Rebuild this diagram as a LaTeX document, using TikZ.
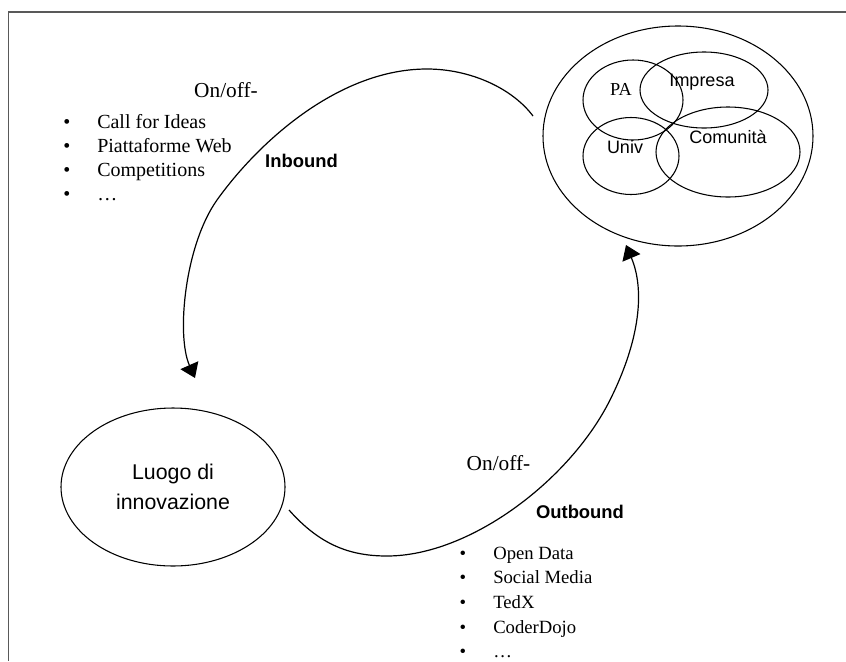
\documentclass[tikz,border=0pt]{standalone}
\usepackage{fontspec}
\setmainfont{Liberation Serif}
\setsansfont{Liberation Sans}
\usetikzlibrary{shapes.geometric,arrows.meta}
\tikzset{
  blob/.style={draw=black, ellipse, line width=0.8pt, inner sep=0pt},
  flow/.style={draw=black, line width=0.9pt, -{Triangle[length=10.5pt,width=14.5pt]}},
  serifitem/.style={font=\fontsize{15pt}{18pt}\selectfont, inner sep=0pt, anchor=base west},
  serifitemb/.style={font=\fontsize{14pt}{17pt}\selectfont, inner sep=0pt, anchor=base west},
  bul/.style={inner sep=0pt, anchor=base},
  onoff/.style={font=\fontsize{16pt}{19pt}\selectfont, inner sep=0pt, anchor=base},
  boldlab/.style={font=\sffamily\bfseries\fontsize{13.8pt}{16pt}\selectfont, inner sep=0pt, anchor=base},
  grplab/.style={font=\sffamily\fontsize{13.5pt}{16pt}\selectfont, inner sep=0pt, anchor=base},
  frameline/.style={draw=black!65, line width=0.8pt}
}
\begin{document}
\begin{tikzpicture}[x=0.75pt, y=-0.75pt]
\useasboundingbox (0,0) rectangle (846,661);
% frame
\coordinate (fTL) at (8.5,12);
\coordinate (fTR) at (846,12);
\coordinate (fBL) at (8.5,661);
\draw[frameline] (fTR) -- (fTL) -- (fBL);

% group of actors
\node[blob, minimum width=202.5pt, minimum height=165pt] (grp) at (678,136) {};
\node[blob, minimum width=75pt, minimum height=60pt] (pa) at (633,100) {};
\node[blob, minimum width=96pt, minimum height=57pt] (imp) at (704,90) {};
\node[blob, minimum width=72pt, minimum height=57.75pt] (univ) at (631,156) {};
\node[blob, minimum width=108pt, minimum height=67.5pt] (com) at (728,152) {};
\node[grplab, font=\rmfamily\fontsize{13.7pt}{16pt}\selectfont] (paT) at (621,95) {PA};
\node[grplab] (impT) at (702,86.7) {Impresa};
\node[grplab] (univT) at (625,153) {Univ};
\node[grplab] (comT) at (728,143) {Comunità};

% luogo di innovazione
\node[blob, minimum width=168pt, minimum height=118.5pt, align=center,
      font=\sffamily\fontsize{16pt}{22.5pt}\selectfont] (luogo) at (173,487) {\rule{0pt}{9pt}Luogo di\\innovazione};

% connector end points
\coordinate (inS) at (533,116);
\coordinate (inE) at (195,378);
\coordinate (outS) at (289,510);
\coordinate (outE) at (626,245);

% inbound
\draw[flow] (inS) .. controls (512,88) and (470,69) .. (427,69)
  .. controls (340,69) and (260,140) .. (217,200)
  .. controls (185,245) and (176,335) .. (inE);
% outbound
\draw[flow] (outS) .. controls (320,545) and (350,556) .. (387,556)
  .. controls (470,556) and (570,480) .. (610,400)
  .. controls (640,340) and (645,290) .. (outE);

% labels
\node[onoff] (onoffA) at (226,97) {On/off-};
\node[boldlab] (inbT) at (301.5,167) {Inbound};
\node[onoff] (onoffB) at (498.5,470) {On/off-};
\node[boldlab] (outbT) at (580,518.5) {Outbound};

% top list
\foreach \t [count=\i] in {Call for Ideas, Piattaforme Web, Competitions, …}{
  \node[bul, font=\fontsize{15pt}{18pt}\selectfont] (ib\i) at (67,{128.6+24*(\i-1)}) {•};
  \node[serifitem] (it\i) at (97,{128.6+24*(\i-1)}) {\t};
}
% bottom list
\foreach \t [count=\i] in {Open Data, Social Media, TedX, CoderDojo, …}{
  \node[bul, font=\fontsize{14pt}{17pt}\selectfont] (ob\i) at (463,{559+24.7*(\i-1)}) {•};
  \node[serifitemb] (ot\i) at (493,{559+24.7*(\i-1)}) {\t};
}
\end{tikzpicture}
\end{document}
